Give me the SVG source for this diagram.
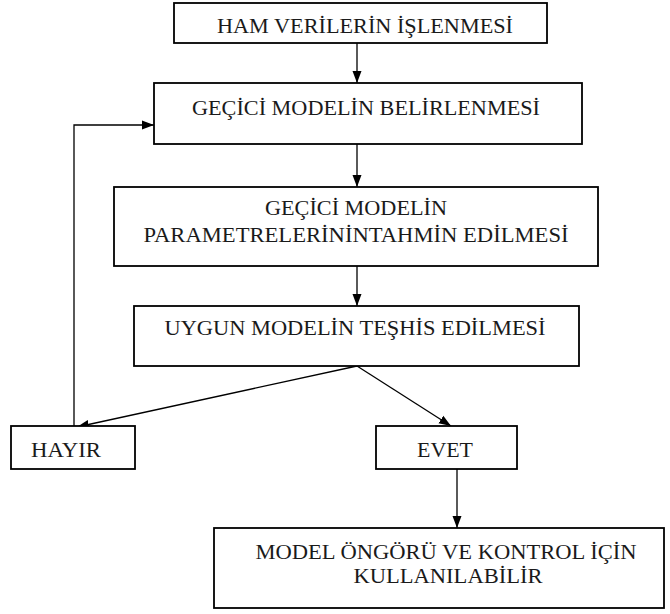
<svg xmlns="http://www.w3.org/2000/svg" width="670" height="614" viewBox="0 0 670 614">
<style>
.box{fill:#fff;stroke:#000;stroke-width:1.8}
.lbl{font-family:"Liberation Serif","Times New Roman",serif;font-size:22px;fill:#1a1a1a;text-anchor:middle}
.con{fill:none;stroke:#000;stroke-width:1.3}
</style>
<defs>
<marker id="ah" markerUnits="userSpaceOnUse" markerWidth="12" markerHeight="12" viewBox="0 0 12 12" refX="12" refY="6" orient="auto">
<path d="M0,1.5 L12,6 L0,10.5 Z" fill="#000"/>
</marker>
</defs>
<rect width="670" height="614" fill="#fff"/>
<g id="connectors">
<line class="con" x1="357" y1="43" x2="357" y2="83" marker-end="url(#ah)"/>
<line class="con" x1="357" y1="144" x2="357" y2="187" marker-end="url(#ah)"/>
<line class="con" x1="357" y1="266" x2="357" y2="306" marker-end="url(#ah)"/>
<line class="con" x1="357" y1="366" x2="77" y2="427" marker-end="url(#ah)"/>
<line class="con" x1="357" y1="366" x2="451" y2="426" marker-end="url(#ah)"/>
<line class="con" x1="457" y1="469" x2="457" y2="528" marker-end="url(#ah)"/>
<polyline class="con" points="74,426 74,125 154,125" marker-end="url(#ah)"/>
</g>
<g id="n1">
<rect class="box" x="174" y="3" width="373" height="40"/>
<text class="lbl" x="365" y="33" textLength="296" lengthAdjust="spacingAndGlyphs">HAM VERİLERİN İŞLENMESİ</text>
</g>
<g id="n2">
<rect class="box" x="154" y="83" width="428" height="61"/>
<text class="lbl" x="366" y="115" textLength="348" lengthAdjust="spacingAndGlyphs">GEÇİCİ MODELİN BELİRLENMESİ</text>
</g>
<g id="n3">
<rect class="box" x="114" y="187" width="484" height="79"/>
<text class="lbl" x="356" y="215" textLength="182" lengthAdjust="spacingAndGlyphs">GEÇİCİ MODELİN</text>
<text class="lbl" x="356" y="242" textLength="425" lengthAdjust="spacingAndGlyphs">PARAMETRELERİNİNTAHMİN EDİLMESİ</text>
</g>
<g id="n4">
<rect class="box" x="134" y="306" width="445" height="60"/>
<text class="lbl" x="355" y="335" textLength="381" lengthAdjust="spacingAndGlyphs">UYGUN MODELİN TEŞHİS EDİLMESİ</text>
</g>
<g id="n5">
<rect class="box" x="11" y="426" width="124" height="43"/>
<text class="lbl" x="66" y="457" textLength="70" lengthAdjust="spacingAndGlyphs">HAYIR</text>
</g>
<g id="n6">
<rect class="box" x="376" y="426" width="141" height="43"/>
<text class="lbl" x="445" y="457" textLength="56" lengthAdjust="spacingAndGlyphs">EVET</text>
</g>
<g id="n7">
<rect class="box" x="214" y="528" width="450" height="80"/>
<text class="lbl" x="446" y="559" textLength="381" lengthAdjust="spacingAndGlyphs">MODEL ÖNGÖRÜ VE KONTROL İÇİN</text>
<text class="lbl" x="448" y="583" textLength="189" lengthAdjust="spacingAndGlyphs">KULLANILABİLİR</text>
</g>
</svg>
